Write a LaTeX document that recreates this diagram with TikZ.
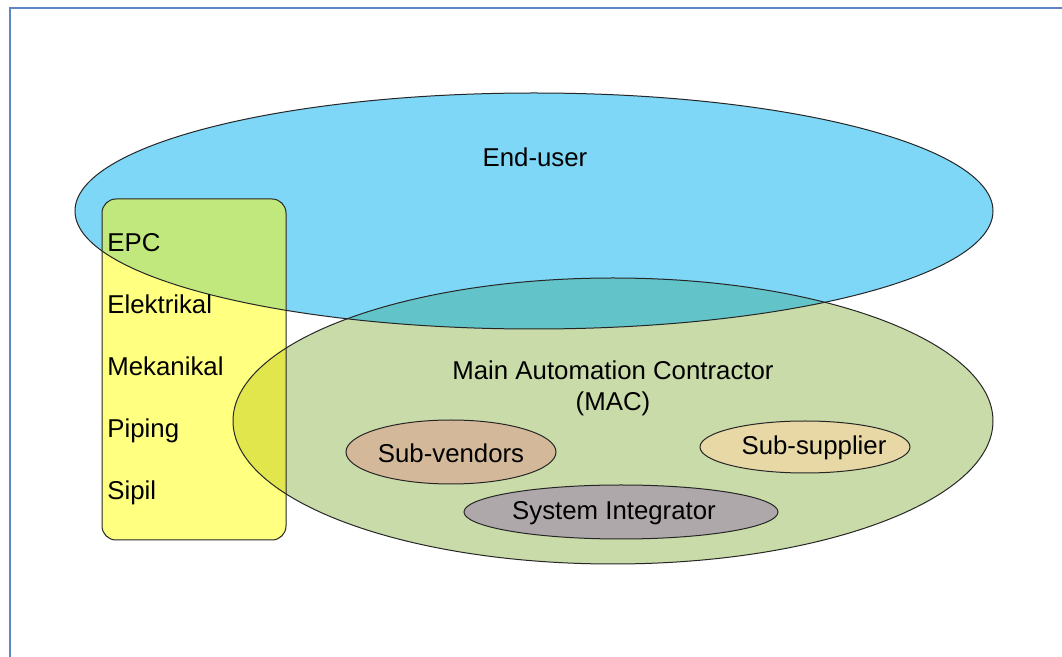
\documentclass[tikz,border=0pt]{standalone}
\usepackage{fontspec}
\setmainfont{Liberation Sans}
\definecolor{frameblue}{RGB}{94,134,196}
\definecolor{userblue}{RGB}{127,215,247}
\definecolor{epcyellow}{RGB}{255,255,128}
\definecolor{epcgreen}{RGB}{192,232,124}
\definecolor{macgreen}{RGB}{201,219,169}
\definecolor{macteal}{RGB}{98,196,201}
\definecolor{macolive}{RGB}{224,230,76}
\definecolor{vendortan}{RGB}{212,184,154}
\definecolor{suppliersand}{RGB}{232,216,166}
\definecolor{integratorgrey}{RGB}{174,168,171}
\tikzset{
  outline/.style={draw=black!85, line width=0.5pt},
  label/.style={font=\fontsize{12.9}{15.5}\selectfont, inner sep=0pt, text=black},
  listitem/.style={label, anchor=base west},
}
\begin{document}
\begin{tikzpicture}[x=0.5pt, y=-0.5pt]
  \useasboundingbox (0,0) rectangle (1062,657);
  \fill[white] (0,0) rectangle (1062,657);

  % page frame
  \draw[frameblue, line width=1pt] (10,657) -- (10,8) -- (1062,8);

  % End-user fill
  \fill[userblue] (534,211) ellipse [x radius=229.5pt, y radius=59pt];

  % EPC box fill, green where it lies on the End-user field
  \fill[epcyellow, rounded corners=7pt] (102,199) rectangle (286,540);
  \begin{scope}
    \clip (534,211) ellipse [x radius=229.5pt, y radius=59pt];
    \fill[epcgreen, rounded corners=7pt] (102,199) rectangle (286,540);
  \end{scope}

  % MAC fill, with its overlaps
  \fill[macgreen] (613,421) ellipse [x radius=190pt, y radius=71.5pt];
  \begin{scope}
    \clip (613,421) ellipse [x radius=190pt, y radius=71.5pt];
    \fill[macteal] (534,211) ellipse [x radius=229.5pt, y radius=59pt];
    \fill[macolive, rounded corners=7pt] (102,199) rectangle (286,540);
  \end{scope}

  % outlines
  \draw[outline] (534,211) ellipse [x radius=229.5pt, y radius=59pt];
  \draw[outline, rounded corners=7pt] (102,199) rectangle (286,540);
  \draw[outline] (613,421) ellipse [x radius=190pt, y radius=71.5pt];

  % members of the MAC
  \draw[outline, fill=vendortan] (451,452) ellipse [x radius=52.5pt, y radius=16pt];
  \draw[outline, fill=suppliersand] (805,447) ellipse [x radius=52.5pt, y radius=13pt];
  \draw[outline, fill=integratorgrey] (621,512) ellipse [x radius=78.5pt, y radius=13.5pt];

  % labels
  \node[label] (enduser) at (535,157) {End-user};
  \node[label, align=center] (mac) at (613,388) {Main Automation Contractor\\(MAC)};
  \node[label] (vendors) at (451,453) {Sub-vendors};
  \node[label] (supplier) at (814,448) {Sub-supplier};
  \node[label] (integrator) at (614,513) {System Integrator};

  \node[listitem] (epc) at (107,252) {EPC};
  \node[listitem] (elek) at (107,314) {Elektrikal};
  \node[listitem] (mek) at (107,376) {Mekanikal};
  \node[listitem] (pip) at (107,438) {Piping};
  \node[listitem] (sip) at (107,500) {Sipil};
\end{tikzpicture}
\end{document}
